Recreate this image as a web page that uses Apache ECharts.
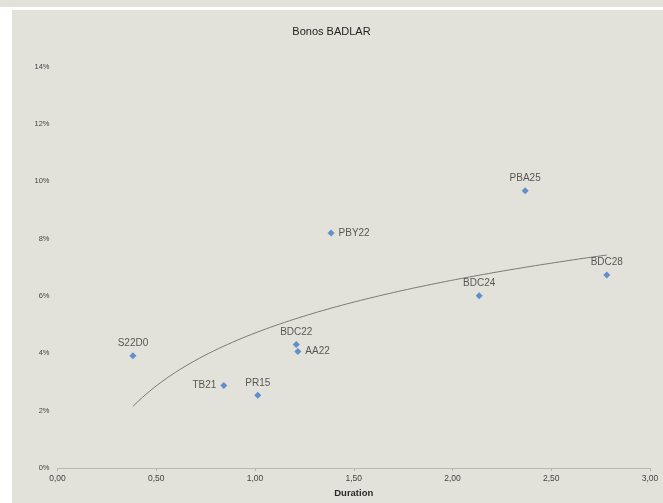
<!DOCTYPE html>
<html><head><meta charset="utf-8">
<script src="https://cdn.jsdelivr.net/npm/echarts@6/dist/echarts.min.js"></script>
<style>
html,body{margin:0;padding:0;background:#fff;width:663px;height:503px;overflow:hidden;}
#strip{position:absolute;left:0;top:0;width:663px;height:7px;background:#e2e1da;}
#panel{position:absolute;left:12px;top:10px;width:651px;height:493px;background:#e2e1da;}
#chart{position:absolute;left:0;top:0;width:663px;height:503px;}
</style></head>
<body>
<div id="strip"></div><div id="panel"></div><div id="chart"></div>
<script>
const bonds = ['S22D0','TB21','PR15','BDC22','AA22','PBY22','PBA25','BDC28','BDC24'];
const duration = [0.382,0.842,1.014,1.209,1.217,1.385,2.368,2.781,2.135];
const yieldPct = [3.92,2.88,2.54,4.31,4.07,8.20,9.67,6.73,6.01];
const labelPos = ['top','left','top','top','right','right','top','top','top'];
const yTicks = [0,2,4,6,8,10,12,14];
const xTicks = [0,0.5,1,1.5,2,2.5,3];

// logarithmic trendline (least squares fit of y = a + b ln x)
const n = duration.length;
const lx = duration.map(Math.log);
const mx = lx.reduce((s,v)=>s+v,0)/n, my = yieldPct.reduce((s,v)=>s+v,0)/n;
let sxy=0,sxx=0;
for(let i=0;i<n;i++){sxy+=(lx[i]-mx)*(yieldPct[i]-my);sxx+=(lx[i]-mx)**2;}
const b = sxy/sxx, a = my - b*mx;
const xmin = Math.min(...duration), xmax = Math.max(...duration);
const trend = [];
for(let k=0;k<=100;k++){const x = xmin+(xmax-xmin)*k/100; trend.push([x, a+b*Math.log(x)]);}

const chart = echarts.init(document.getElementById('chart'));
chart.setOption({
  backgroundColor:'transparent',
  animation:false,
  title:{text:'Bonos BADLAR',left:'center',top:21,textStyle:{fontFamily:'Liberation Sans',fontSize:11,fontWeight:'normal',color:'#222'}},
  grid:{left:57.5,right:13,top:66.6,bottom:28},
  xAxis:{type:'value',min:xTicks[0],max:xTicks[xTicks.length-1],interval:0.5,
    name:'Duration',nameLocation:'middle',nameGap:16,
    nameTextStyle:{fontFamily:'Liberation Sans',fontSize:9.5,fontWeight:'bold',color:'#2a2a2a'},
    axisLine:{lineStyle:{color:'#b8b8b0',width:1}},
    axisTick:{show:true,length:3,lineStyle:{color:'#b8b8b0'}},
    splitLine:{show:false},
    axisLabel:{fontFamily:'Liberation Sans',fontSize:8.5,color:'#444',margin:6,
      formatter:v=>v.toFixed(2).replace('.',',')}},
  yAxis:{type:'value',min:yTicks[0],max:yTicks[yTicks.length-1],interval:2,
    axisLine:{show:false},axisTick:{show:false},splitLine:{show:false},
    axisLabel:{fontFamily:'Liberation Sans',fontSize:7.5,color:'#444',margin:8,formatter:v=>v+'%'}},
  series:[
    {type:'line',data:trend,showSymbol:false,symbol:'none',smooth:false,
     lineStyle:{color:'#7a7a76',width:1},z:1,silent:true},
    {type:'scatter',symbol:'diamond',symbolSize:7,
     itemStyle:{color:'#3f7ac9'},
     data:duration.map((x,i)=>({value:[x,yieldPct[i]],name:bonds[i],
        label:{position:labelPos[i]}})),
     label:{show:true,formatter:p=>p.name,fontFamily:'Liberation Sans',fontSize:10,color:'#333',distance:4},z:3}
  ]
});
</script></body></html>
